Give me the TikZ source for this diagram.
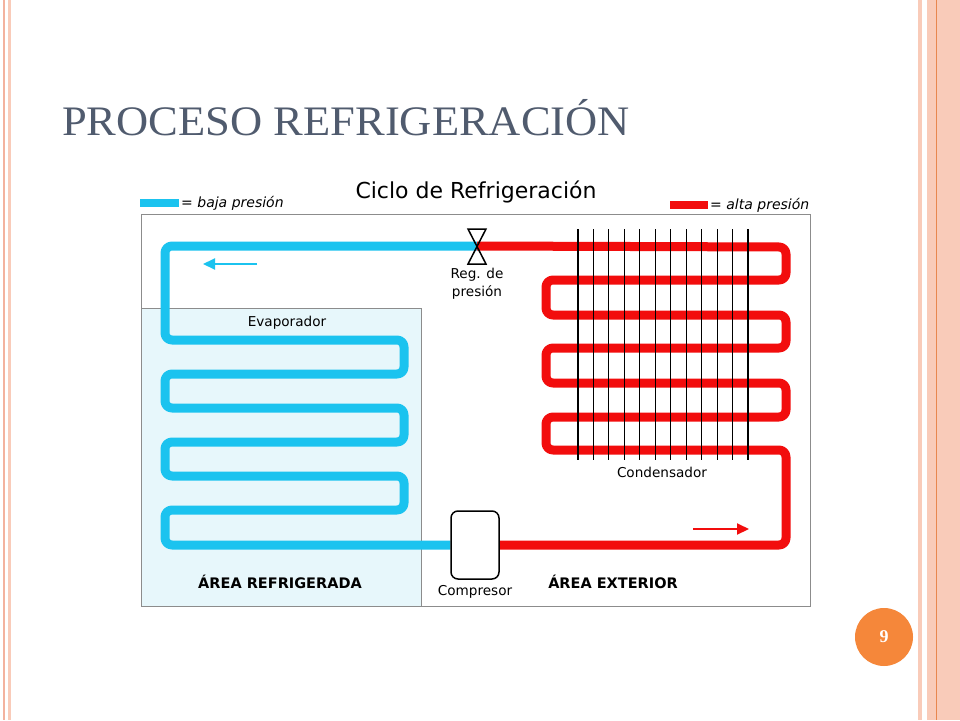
\documentclass[tikz,border=0pt]{standalone}
\usepackage{fontspec}
\setmainfont{Liberation Serif}
\newfontfamily\dia{DejaVu Sans}
\usetikzlibrary{arrows.meta}
\definecolor{pipeblue}{HTML}{1BC3EF}
\definecolor{pipered}{HTML}{F20D0D}
\definecolor{areablue}{HTML}{E7F7FB}
\definecolor{framegray}{HTML}{8C8C8C}
\definecolor{titlegray}{HTML}{505B6E}
\definecolor{pinkband}{HTML}{F9CBB9}
\definecolor{pinkline}{HTML}{F3B29E}
\definecolor{orangeline}{HTML}{E8874F}
\definecolor{badge}{HTML}{F5873A}
\pgfdeclarelayer{bg}
\pgfdeclarelayer{pipes}
\pgfsetlayers{bg,pipes,main}
\begin{document}
\begin{tikzpicture}[x=1pt,y=-1pt,
  pipe/.style={line width=9pt, rounded corners=7pt, line join=round},
  bluepipe/.style={pipe, draw=pipeblue},
  redpipe/.style={pipe, draw=pipered},
  fin/.style={draw=black, line width=1.1pt},
  lbl/.style={font=\dia\fontsize{13.6}{18}\selectfont, inner sep=0pt},
  arealbl/.style={font=\dia\bfseries\fontsize{14.5}{16}\selectfont, inner sep=0pt},
  legendtxt/.style={font=\dia\itshape\fontsize{14}{15}\selectfont, inner sep=0pt, anchor=west},
  legendbar/.style={line width=8pt},
  flow/.style={line width=2pt, -{Triangle[length=12pt,width=11pt]}},
  compbox/.style={draw=black, line width=1.5pt, rounded corners=7pt, fill=white,
    minimum width=48pt, minimum height=68pt, inner sep=0pt},
  valvestyle/.style={draw=black, line width=1.5pt, line join=miter}
]
\useasboundingbox (0,0) rectangle (960,720);
\begin{pgfonlayer}{bg}
  \fill[white] (0,0) rectangle (960,720);
  % slide borders
  \fill[pinkline] (3,0) rectangle (5,720);
  \fill[pinkband] (7.5,0) rectangle (10.5,720);
  \fill[pinkband] (918,0) rectangle (922,720);
  \fill[pinkband] (927,0) rectangle (960,720);
  \draw[orangeline, line width=1pt] (936,0) -- (936,720);
  % diagram frame and refrigerated area
  \draw[framegray, line width=1pt] (141,214) rectangle (810,606);
  \draw[framegray, line width=1pt, fill=areablue] (141,308) rectangle (421,606);
\end{pgfonlayer}

% title
\node[anchor=base west, inner sep=0pt, text=titlegray, font=\fontsize{42}{42}\selectfont] (title) at (62,135) {\scalebox{1.06}[1]{PROCESO REFRIGERACIÓN}};

% diagram heading and legend
\node[font=\dia\fontsize{22}{22}\selectfont, anchor=base, inner sep=0pt] (ciclo) at (476,198) {Ciclo de Refrigeración};
\node[legendtxt] (lowtxt) at (181,203) {= baja presión};
\node[legendtxt] (hightxt) at (710,205) {= alta presión};
\coordinate (lowbar) at (140,203);
\coordinate (highbar) at (670,205);
\draw[legendbar, pipeblue] (lowbar) -- ([xshift=-2pt]lowtxt.west);
\draw[legendbar, pipered] (highbar) -- ([xshift=-2pt]hightxt.west);

% components
\node[compbox] (comp) at (475,545) {};
\coordinate (valve) at (477,246);

\begin{pgfonlayer}{pipes}
  % low pressure: valve -> evaporator -> compressor
  \draw[bluepipe] (valve) -- (165,246) -- (165,340) -- (404,340) -- (404,374)
    -- (165,374) -- (165,408) -- (404,408) -- (404,442) -- (165,442)
    -- (165,476) -- (404,476) -- (404,510) -- (165,510) -- (165,545)
    -- (comp.west);
  % high pressure: compressor -> condenser -> valve
  \draw[redpipe] (comp.east) -- (786,545) -- (786,450) -- (546,450) -- (546,417)
    -- (786,417) -- (786,383) -- (546,383) -- (546,348) -- (786,348)
    -- (786,315) -- (546,315) -- (546,280) -- (786,280) -- (786,247)
    -- (valve);
\end{pgfonlayer}

% condenser fins
\foreach \i in {0,...,11}{
  \draw[fin] ({578+15.45*\i},229) -- ({578+15.45*\i},460);
}

% pressure regulator (hourglass)
\draw[valvestyle] ([shift={(-9,-17)}]valve) -- ++(18,0) -- ++(-18,35) -- ++(18,0) -- cycle;
\node[lbl, align=center] (reglbl) at (477,284) {Reg. de\\presión};

% flow arrows
\coordinate (bstart) at (257,264);
\coordinate (bend) at (203,264);
\draw[flow, pipeblue] (bstart) -- (bend);
\coordinate (rstart) at (693,529);
\coordinate (rend) at (749,529);
\draw[flow, pipered] (rstart) -- (rend);

% labels
\node[lbl] (evap) at (287,323) {Evaporador};
\node[lbl] (cond) at (662,472) {Condensador};
\node[lbl] (complbl) at (475,592) {Compresor};
\node[arealbl] (arearef) at (280,582) {ÁREA REFRIGERADA};
\node[arealbl] (areaext) at (613,582) {ÁREA EXTERIOR};

% page number
\node[circle, fill=badge, minimum size=58pt, inner sep=0pt, text=white,
  font=\bfseries\fontsize{18}{18}\selectfont] (page) at (884,637) {9};
\end{tikzpicture}
\end{document}
